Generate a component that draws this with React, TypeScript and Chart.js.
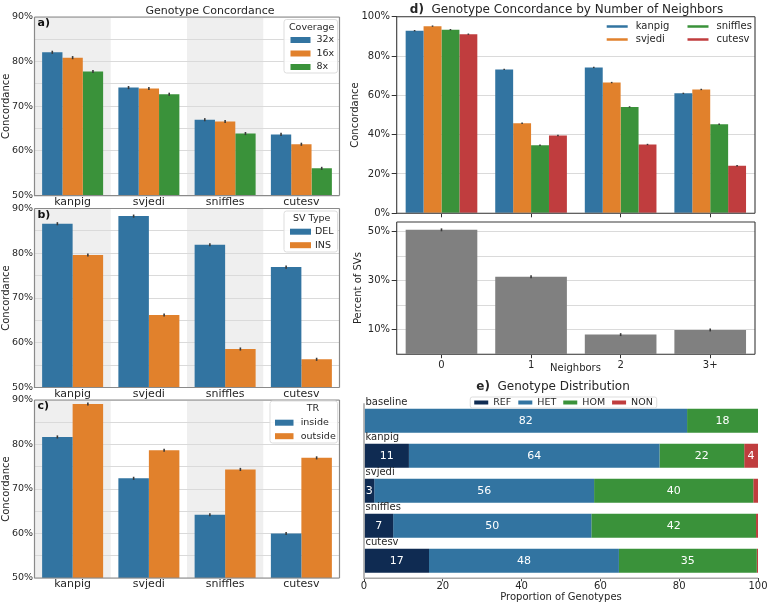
import React, { useEffect, useRef } from 'react';
import { Chart, registerables } from 'chart.js';

Chart.register(...registerables);

const W = 768;
const H = 602;
const FONT = '"DejaVu Sans", "Liberation Sans", sans-serif';
const TXT = '#262626';

// ---------------- data ----------------
const callers = ['kanpig', 'svjedi', 'sniffles', 'cutesv'];

const coverageLabels = ['32x', '16x', '8x'];
const cov32 = [82.1, 74.2, 67.0, 63.7];
const cov16 = [80.9, 74.0, 66.6, 61.5];
const cov8 = [77.8, 72.7, 63.9, 56.1];

const svTypeLabels = ['DEL', 'INS'];
const delConc = [86.6, 88.3, 81.9, 76.9];
const insConc = [79.6, 66.2, 58.6, 56.3];

const trLabels = ['inside', 'outside'];
const insideConc = [81.7, 72.4, 64.2, 60.0];
const outsideConc = [89.1, 78.7, 74.4, 77.0];

const neighborLabels = ['0', '1', '2', '3+'];
const nbKanpig = [92.9, 73.2, 74.2, 61.0];
const nbSvjedi = [95.2, 45.8, 66.5, 63.0];
const nbSniffles = [93.4, 34.6, 54.1, 45.3];
const nbCutesv = [91.1, 39.6, 35.0, 24.2];
const percentSVs = [50.8, 31.6, 8.0, 9.9];
const percentGridTicks = [0, 10, 20, 30, 40, 50];

const distRows = ['baseline', 'kanpig', 'svjedi', 'sniffles', 'cutesv'];
const genotypeLabels = ['REF', 'HET', 'HOM', 'NON'];
const refProp = [0, 11.4, 2.6, 7.4, 16.5];
const hetProp = [82.0, 63.6, 55.8, 50.3, 48.2];
const homProp = [18.0, 21.5, 40.4, 41.8, 35.0];
const nonProp = [0, 3.5, 1.2, 0.5, 0.3];

// ---------------- style ----------------
const BLUE = '#3274a1';
const ORANGE = '#e1812c';
const GREEN = '#3a923a';
const RED = '#c03d3e';
const NAVY = '#0f2b52';
const GRAY = '#808080';
const GRID = '#dadada';

type Rect = { l: number; t: number; r: number; b: number };

const fixW = (w: number) => (s: any) => {
  s.width = w;
  s.paddingTop = 0; s.paddingBottom = 0; s.paddingLeft = 0; s.paddingRight = 0;
};
const fixH = (h: number) => (s: any) => {
  s.height = h;
  s.paddingTop = 0; s.paddingBottom = 0; s.paddingLeft = 0; s.paddingRight = 0;
};

function decor(d: any) {
  return {
    id: 'decor',
    beforeDraw(chart: any) {
      if (!d.bands) return;
      const { ctx, chartArea: ca } = chart;
      const n = chart.data.labels.length;
      const w = ca.width / n;
      ctx.save();
      ctx.fillStyle = '#efefef';
      for (let i = 0; i < n; i += 2) ctx.fillRect(ca.left + i * w, ca.top, w, ca.height);
      ctx.restore();
    },
    afterDatasetsDraw(chart: any) {
      const { ctx, chartArea: ca } = chart;
      if (d.err) {
        ctx.save();
        ctx.strokeStyle = '#3a3a3a';
        ctx.lineWidth = 1.6;
        const ys = chart.scales.y;
        chart.data.datasets.forEach((ds: any, di: number) => {
          const meta = chart.getDatasetMeta(di);
          meta.data.forEach((el: any, i: number) => {
            const v = ds.data[i];
            ctx.beginPath();
            ctx.moveTo(el.x, ys.getPixelForValue(v - d.err));
            ctx.lineTo(el.x, ys.getPixelForValue(v + d.err));
            ctx.stroke();
          });
        });
        ctx.restore();
      }
      if (d.segLabels) {
        ctx.save();
        ctx.font = `11px ${FONT}`;
        ctx.fillStyle = '#ffffff';
        ctx.textAlign = 'center';
        ctx.textBaseline = 'middle';
        chart.data.datasets.forEach((ds: any, di: number) => {
          const meta = chart.getDatasetMeta(di);
          meta.data.forEach((el: any, i: number) => {
            const v = ds.data[i];
            if (v < 2) return;
            const p = el.getProps(['x', 'base', 'y'], true);
            ctx.fillText(String(Math.round(v)), (p.x + p.base) / 2, p.y + 0.5);
          });
        });
        ctx.restore();
      }
      if (d.rowLabels) {
        ctx.save();
        ctx.font = `10px ${FONT}`;
        ctx.fillStyle = TXT;
        ctx.textAlign = 'left';
        ctx.textBaseline = 'middle';
        const meta = chart.getDatasetMeta(0);
        meta.data.forEach((el: any, i: number) => {
          const p = el.getProps(['y', 'height'], true);
          ctx.fillText(chart.data.labels[i], ca.left + 1.5, p.y - p.height / 2 - 6);
        });
        ctx.restore();
      }
    },
    afterDraw(chart: any) {
      const { ctx, chartArea: ca } = chart;
      if (d.frame) {
        ctx.save();
        ctx.strokeStyle = d.frame.color;
        ctx.lineWidth = d.frame.width;
        const sides: string = d.frame.sides || 'lrtb';
        ctx.beginPath();
        if (sides.includes('l')) { ctx.moveTo(ca.left, ca.top); ctx.lineTo(ca.left, ca.bottom); }
        if (sides.includes('r')) { ctx.moveTo(ca.right, ca.top); ctx.lineTo(ca.right, ca.bottom); }
        if (sides.includes('t')) { ctx.moveTo(ca.left, ca.top); ctx.lineTo(ca.right, ca.top); }
        if (sides.includes('b')) { ctx.moveTo(ca.left - d.frame.width / 2, ca.bottom); ctx.lineTo(ca.right, ca.bottom); }
        ctx.stroke();
        ctx.restore();
      }
      if (d.tag) {
        ctx.save();
        ctx.font = `bold 11px ${FONT}`;
        ctx.fillStyle = '#111';
        ctx.textAlign = 'left';
        ctx.textBaseline = 'middle';
        ctx.fillText(d.tag, ca.left + 3, ca.top + 6.5);
        ctx.restore();
      }
      if (d.boxLegend) {
        const L = d.boxLegend;
        ctx.save();
        ctx.fillStyle = 'rgba(255,255,255,0.85)';
        ctx.strokeStyle = '#dddddd';
        ctx.lineWidth = 1;
        ctx.beginPath();
        const bw = L.box.r - L.box.l, bh = L.box.b - L.box.t;
        if (ctx.roundRect) ctx.roundRect(L.box.l, L.box.t, bw, bh, 2.5); else ctx.rect(L.box.l, L.box.t, bw, bh);
        ctx.fill();
        ctx.stroke();
        ctx.font = `9.5px ${FONT}`;
        ctx.fillStyle = TXT;
        ctx.textBaseline = 'middle';
        ctx.textAlign = 'center';
        ctx.fillText(L.title, L.titleX, L.titleY);
        ctx.textAlign = 'left';
        L.labels.forEach((s: string, i: number) => {
          const y = L.rowY + i * 13.5;
          ctx.fillStyle = L.colors[i];
          ctx.fillRect(L.patchX, y - 3, L.patchW, 6);
          ctx.fillStyle = TXT;
          ctx.fillText(s, L.textX, y);
        });
        ctx.restore();
      }
      if (d.lineLegend) {
        ctx.save();
        ctx.font = `10px ${FONT}`;
        ctx.textBaseline = 'middle';
        ctx.textAlign = 'left';
        ctx.lineWidth = 2.5;
        d.lineLegend.forEach((it: any) => {
          ctx.strokeStyle = it.color;
          ctx.beginPath();
          ctx.moveTo(it.x, it.y);
          ctx.lineTo(it.x + 21, it.y);
          ctx.stroke();
          ctx.fillStyle = TXT;
          ctx.fillText(it.label, it.x + 29, it.y);
        });
        ctx.restore();
      }
      if (d.hLegend) {
        const L = d.hLegend;
        ctx.save();
        ctx.font = `9.5px ${FONT}`;
        const pw = 14, g1 = 5, g2 = 7;
        const widths = L.labels.map((s: string) => ctx.measureText(s).width);
        const total = widths.reduce((a: number, b: number) => a + b, 0) + L.labels.length * (pw + g1) + (L.labels.length - 1) * g2;
        let x = L.cx - total / 2;
        ctx.fillStyle = 'rgba(255,255,255,0.9)';
        ctx.strokeStyle = '#dddddd';
        ctx.lineWidth = 1;
        ctx.beginPath();
        if (ctx.roundRect) ctx.roundRect(x - 4, L.cy - 5.5, total + 8, 11, 2); else ctx.rect(x - 4, L.cy - 5.5, total + 8, 11);
        ctx.fill();
        ctx.stroke();
        ctx.textBaseline = 'middle';
        ctx.textAlign = 'left';
        L.labels.forEach((s: string, i: number) => {
          ctx.fillStyle = L.colors[i];
          ctx.fillRect(x, L.cy - 2, pw, 4);
          x += pw + g1;
          ctx.fillStyle = TXT;
          ctx.fillText(s, x, L.cy + 0.5);
          x += widths[i] + g2;
        });
        ctx.restore();
      }
    },
  };
}

const baseOptions = {
  animation: false,
  responsive: false,
  events: [],
  plugins: { legend: { display: false }, tooltip: { enabled: false } },
};

function leftPanel(area: Rect, labels: string[], series: number[][], colors: string[], legend: any, tag: string) {
  const xh = 20;
  return {
    type: 'bar',
    data: {
      labels: callers,
      datasets: series.map((data, i) => ({
        label: labels[i],
        data,
        backgroundColor: colors[i],
        borderWidth: 0,
        categoryPercentage: 0.8,
        barPercentage: 1,
      })),
    },
    options: {
      ...baseOptions,
      layout: { autoPadding: false, padding: { left: 0, top: area.t, right: W - area.r, bottom: H - area.b - xh } },
      scales: {
        x: {
          type: 'category',
          grid: { display: false, drawTicks: false },
          border: { display: false },
          ticks: { color: TXT, font: { family: FONT, size: 11 }, padding: 0, maxRotation: 0, autoSkip: false },
          afterFit: fixH(xh),
        },
        y: {
          type: 'linear',
          min: 50,
          max: 90,
          grid: { color: GRID, lineWidth: 1, drawTicks: false },
          border: { display: false },
          ticks: {
            stepSize: 5,
            color: TXT,
            font: { family: FONT, size: 9.5 },
            padding: 1.5,
            callback: (v: number) => (v % 10 === 0 ? v + '%' : ''),
          },
          title: { display: true, text: 'Concordance', color: TXT, font: { family: FONT, size: 10 }, padding: 0 },
          afterFit: fixW(area.l),
        },
      },
    },
    plugins: [decor({ bands: true, err: 0.35, frame: { color: '#8a8a8a', width: 1.2 }, tag, boxLegend: legend })],
  };
}

const makeA = () =>
  leftPanel({ l: 34.5, t: 17, r: 339.5, b: 195.6 }, coverageLabels, [cov32, cov16, cov8], [BLUE, ORANGE, GREEN], {
    title: 'Coverage', labels: coverageLabels, colors: [BLUE, ORANGE, GREEN],
    box: { l: 284, t: 19.5, r: 337.5, b: 73 }, titleX: 311.7, titleY: 27.7,
    patchX: 290.5, patchW: 20, textX: 316.5, rowY: 40,
  }, 'a)');

const makeB = () =>
  leftPanel({ l: 34.5, t: 208.5, r: 339.5, b: 387.5 }, svTypeLabels, [delConc, insConc], [BLUE, ORANGE], {
    title: 'SV Type', labels: svTypeLabels, colors: [BLUE, ORANGE],
    box: { l: 284, t: 211, r: 337.5, b: 252 }, titleX: 311.7, titleY: 219,
    patchX: 290, patchW: 21, textX: 315, rowY: 231.7,
  }, 'b)');

const makeC = () =>
  leftPanel({ l: 34.5, t: 400, r: 339.5, b: 578 }, trLabels, [insideConc, outsideConc], [BLUE, ORANGE], {
    title: 'TR', labels: trLabels, colors: [BLUE, ORANGE],
    box: { l: 270, t: 401, r: 337.5, b: 443 }, titleX: 313, titleY: 409,
    patchX: 275, patchW: 18.5, textX: 300.7, rowY: 422.7,
  }, 'c)');

const makeD = () => {
  const area = { l: 396.7, t: 16.7, r: 755, b: 213.3 };
  const padL = 349;
  const xh = 6;
  const names = ['kanpig', 'svjedi', 'sniffles', 'cutesv'];
  const cols = [BLUE, ORANGE, GREEN, RED];
  const series = [nbKanpig, nbSvjedi, nbSniffles, nbCutesv];
  return {
    type: 'bar',
    data: {
      labels: neighborLabels,
      datasets: series.map((data, i) => ({
        label: names[i], data, backgroundColor: cols[i], borderWidth: 0, categoryPercentage: 0.8, barPercentage: 1,
      })),
    },
    options: {
      ...baseOptions,
      layout: { autoPadding: false, padding: { left: padL, top: area.t, right: W - area.r, bottom: H - area.b - xh } },
      scales: {
        x: {
          type: 'category',
          grid: { display: true, drawOnChartArea: false, offset: false, tickLength: 4, tickColor: '#333', tickWidth: 1 },
          border: { display: false },
          ticks: { display: false },
          afterFit: fixH(xh),
        },
        y: {
          type: 'linear', min: 0, max: 100,
          grid: { color: GRID, lineWidth: 1, tickLength: 5, tickColor: '#333' },
          border: { display: false },
          ticks: { stepSize: 20, color: TXT, font: { family: FONT, size: 10 }, padding: 1.7, callback: (v: number) => v + '%' },
          title: { display: true, text: 'Concordance', color: TXT, font: { family: FONT, size: 10 }, padding: 0 },
          afterFit: fixW(area.l - padL),
        },
      },
    },
    plugins: [decor({
      err: 0.35,
      frame: { color: '#3a3a3a', width: 1.1 },
      lineLegend: [
        { label: names[0], color: cols[0], x: 606.7, y: 26.5 },
        { label: names[1], color: cols[1], x: 606.7, y: 39.5 },
        { label: names[2], color: cols[2], x: 687.5, y: 26.5 },
        { label: names[3], color: cols[3], x: 687.5, y: 39.5 },
      ],
    })],
  };
};

const makeD2 = () => {
  const area = { l: 396.7, t: 222, r: 755, b: 354.2 };
  const padL = 352;
  const xh = 30;
  return {
    type: 'bar',
    data: {
      labels: neighborLabels,
      datasets: [{ label: 'Percent of SVs', data: percentSVs, backgroundColor: GRAY, borderWidth: 0, categoryPercentage: 0.8, barPercentage: 1 }],
    },
    options: {
      ...baseOptions,
      layout: { autoPadding: false, padding: { left: padL, top: area.t, right: W - area.r, bottom: H - area.b - xh } },
      scales: {
        x: {
          type: 'category',
          grid: { display: true, drawOnChartArea: false, offset: false, tickLength: 4, tickColor: '#333', tickWidth: 1 },
          border: { display: false },
          ticks: { color: TXT, font: { family: FONT, size: 10 }, padding: 1, maxRotation: 0, autoSkip: false },
          afterFit: fixH(xh),
        },
        y: {
          type: 'linear', min: 0, max: 54,
          afterBuildTicks: (s: any) => {
            s.ticks = percentGridTicks.map((v) => ({ value: v }));
          },
          grid: {
            color: GRID, lineWidth: 1, tickLength: 5,
            tickColor: (c: any) => (c.tick && Math.round(c.tick.value) % 20 === 10 ? '#333' : 'rgba(0,0,0,0)'),
          },
          border: { display: false },
          ticks: {
            color: TXT, font: { family: FONT, size: 10 }, padding: 1.7,
            callback: (v: number) => (Math.round(v) % 20 === 10 ? v + '%' : ''),
          },
          title: { display: true, text: 'Percent of SVs', color: TXT, font: { family: FONT, size: 10 }, padding: 0 },
          afterFit: fixW(area.l - padL),
        },
      },
    },
    plugins: [decor({ err: 0.6, frame: { color: '#3a3a3a', width: 1.1 } })],
  };
};

const makeE = () => {
  const area = { l: 364, t: 403.3, r: 758, b: 578.3 };
  const xh = H - area.b;
  const cols = [NAVY, BLUE, GREEN, RED];
  const series = [refProp, hetProp, homProp, nonProp];
  return {
    type: 'bar',
    data: {
      labels: distRows,
      datasets: series.map((data, i) => ({
        label: genotypeLabels[i], data, backgroundColor: cols[i], borderWidth: 0,
        categoryPercentage: 1, barPercentage: 0.686,
      })),
    },
    options: {
      ...baseOptions,
      indexAxis: 'y',
      layout: { autoPadding: false, padding: { left: area.l, top: area.t, right: W - area.r, bottom: 0 } },
      scales: {
        x: {
          type: 'linear', stacked: true, min: 0, max: 100,
          grid: { display: true, drawOnChartArea: false, tickLength: 3, tickColor: '#444', tickWidth: 1 },
          border: { display: false },
          ticks: { stepSize: 20, color: TXT, font: { family: FONT, size: 10 }, padding: -1, maxRotation: 0 },
          title: { display: true, text: 'Proportion of Genotypes', color: TXT, font: { family: FONT, size: 10 }, padding: { top: 0, bottom: -1 } },
          afterFit: fixH(xh),
        },
        y: {
          type: 'category', stacked: true,
          grid: { display: false, drawTicks: false },
          border: { display: false },
          ticks: { display: false },
          afterFit: fixW(0),
        },
      },
    },
    plugins: [decor({
      segLabels: true,
      rowLabels: true,
      frame: { color: '#a8a8a8', width: 1.6, sides: 'lb' },
      hLegend: { labels: genotypeLabels, colors: cols, cx: 563.5, cy: 402.5 },
    })],
  };
};

function ChartCanvas({ make }: { make: () => any }) {
  const ref = useRef<HTMLCanvasElement | null>(null);
  useEffect(() => {
    if (!ref.current) return;
    const chart = new Chart(ref.current, make());
    return () => chart.destroy();
  }, []);
  return (
    <canvas
      ref={ref}
      width={W}
      height={H}
      style={{ position: 'absolute', left: 0, top: 0, width: W, height: H }}
    />
  );
}

function Txt({ x, y, size, children }: { x: number; y: number; size: number; children: any }) {
  return (
    <div
      style={{
        position: 'absolute', left: x, top: y, transform: 'translate(-50%, -50%)',
        fontSize: size, lineHeight: 1, whiteSpace: 'nowrap', fontFamily: FONT, color: TXT,
      }}
    >
      {children}
    </div>
  );
}

const makers = [makeA, makeB, makeC, makeD, makeD2, makeE];

export default function App() {
  return (
    <div style={{ position: 'fixed', left: 0, top: 0, width: W, height: H, background: '#ffffff', overflow: 'hidden' }}>
      {makers.map((m, i) => (
        <ChartCanvas key={i} make={m} />
      ))}
      <Txt x={210} y={10} size={11}>Genotype Concordance</Txt>
      <Txt x={566.5} y={8.5} size={12}><b>d)</b>&nbsp; Genotype Concordance by Number of Neighbors</Txt>
      <Txt x={553} y={386} size={12}><b>e)</b>&nbsp; Genotype Distribution</Txt>
      <Txt x={575.5} y={367.5} size={10}>Neighbors</Txt>
    </div>
  );
}
